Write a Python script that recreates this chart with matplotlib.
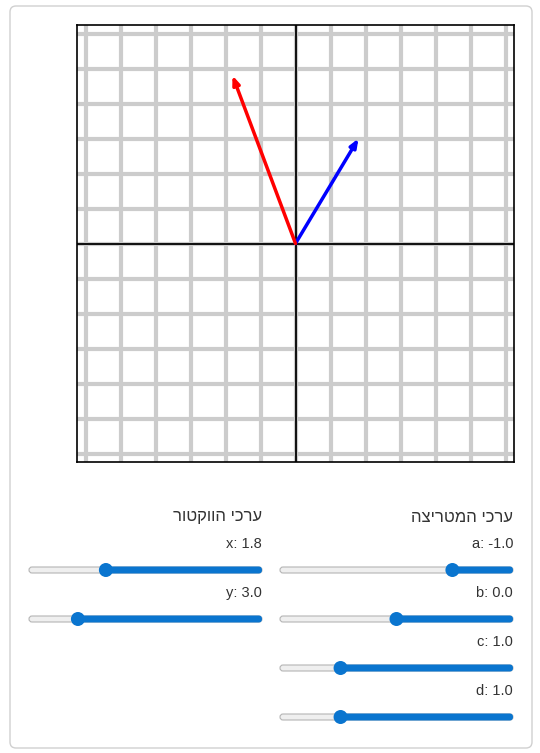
import matplotlib.pyplot as plt
from matplotlib.patches import FancyBboxPatch, Circle

plt.rcParams['font.family'] = ['Liberation Sans', 'DejaVu Sans']

# data
matrix_labels = ["a", "b", "c", "d"]
matrix_values = [-1.0, 0.0, 1.0, 1.0]
matrix_slider_pos = [0.74, 0.50, 0.26, 0.26]   # handle position along track
vector_labels = ["x", "y"]
vector_values = [1.8, 3.0]
vector_slider_pos = [0.33, 0.21]

a, b, c, d = matrix_values
vx, vy = vector_values
tx, ty = a * vx + b * vy, c * vx + d * vy

W, H = 540, 753
BLUE_UI = "#0a75cf"
fig = plt.figure(figsize=(W / 100, H / 100), dpi=100)
bg = fig.add_axes([0, 0, 1, 1])
bg.set_xlim(0, W); bg.set_ylim(H, 0); bg.axis("off")

bg.add_patch(FancyBboxPatch((10, 6), 522, 742, boxstyle="round,pad=0,rounding_size=6",
                            facecolor="white", edgecolor="#d0d0d0", linewidth=1))

def rtl(s):
    return s[::-1]

# plot area: pixels 77..514 x 25..462
ax = fig.add_axes([77 / W, 1 - 462 / H, 437 / W, 437 / H])
lim = 218.5 / 35
ax.set_xlim(-lim, lim); ax.set_ylim(-lim, lim)
for k in range(-6, 7):
    ax.axvline(k, color="#cccccc", lw=3, zorder=0)
    ax.axhline(k, color="#cccccc", lw=3, zorder=0)
ax.axhline(0, color="black", lw=1.3, zorder=1)
ax.axvline(0, color="black", lw=1.3, zorder=1)
ax.set_xticks([]); ax.set_yticks([])
for s in ax.spines.values():
    s.set_linewidth(1.2)
ax.annotate("", xy=(vx, vy), xytext=(0, 0),
            arrowprops=dict(arrowstyle="-|>,head_length=0.5,head_width=0.2", color="blue", lw=2.5, shrinkA=0, shrinkB=0))
ax.annotate("", xy=(tx, ty), xytext=(0, 0),
            arrowprops=dict(arrowstyle="-|>,head_length=0.5,head_width=0.2", color="red", lw=2.5, shrinkA=0, shrinkB=0))

def slider(x0, x1, y, frac, label, val):
    bg.text(x1, y - 26, f"{label}: {val:.1f}", fontsize=10.5, color="#333333", ha="right", va="center")
    hx = x0 + frac * (x1 - x0)
    bg.add_patch(FancyBboxPatch((x0, y - 3), x1 - x0, 6, boxstyle="round,pad=0,rounding_size=3",
                                facecolor="#efefef", edgecolor="#b5b5b5", lw=0.8))
    bg.add_patch(FancyBboxPatch((hx, y - 3.5), x1 - hx, 7, boxstyle="round,pad=0,rounding_size=3.5",
                                facecolor=BLUE_UI, edgecolor="none"))
    bg.add_patch(Circle((hx, y), 7, facecolor=BLUE_UI, edgecolor="none"))

bg.text(513, 517, rtl("ערכי המטריצה"), fontsize=12, color="#333333", ha="right", va="center")
bg.text(262, 517, rtl("ערכי הווקטור"), fontsize=12, color="#333333", ha="right", va="center")
for i, (lab, val, pos) in enumerate(zip(matrix_labels, matrix_values, matrix_slider_pos)):
    slider(280, 513, 570 + 49 * i, pos, lab, val)
for i, (lab, val, pos) in enumerate(zip(vector_labels, vector_values, vector_slider_pos)):
    slider(29, 262, 570 + 49 * i, pos, lab, val)

fig.savefig("out.png", dpi=100)
